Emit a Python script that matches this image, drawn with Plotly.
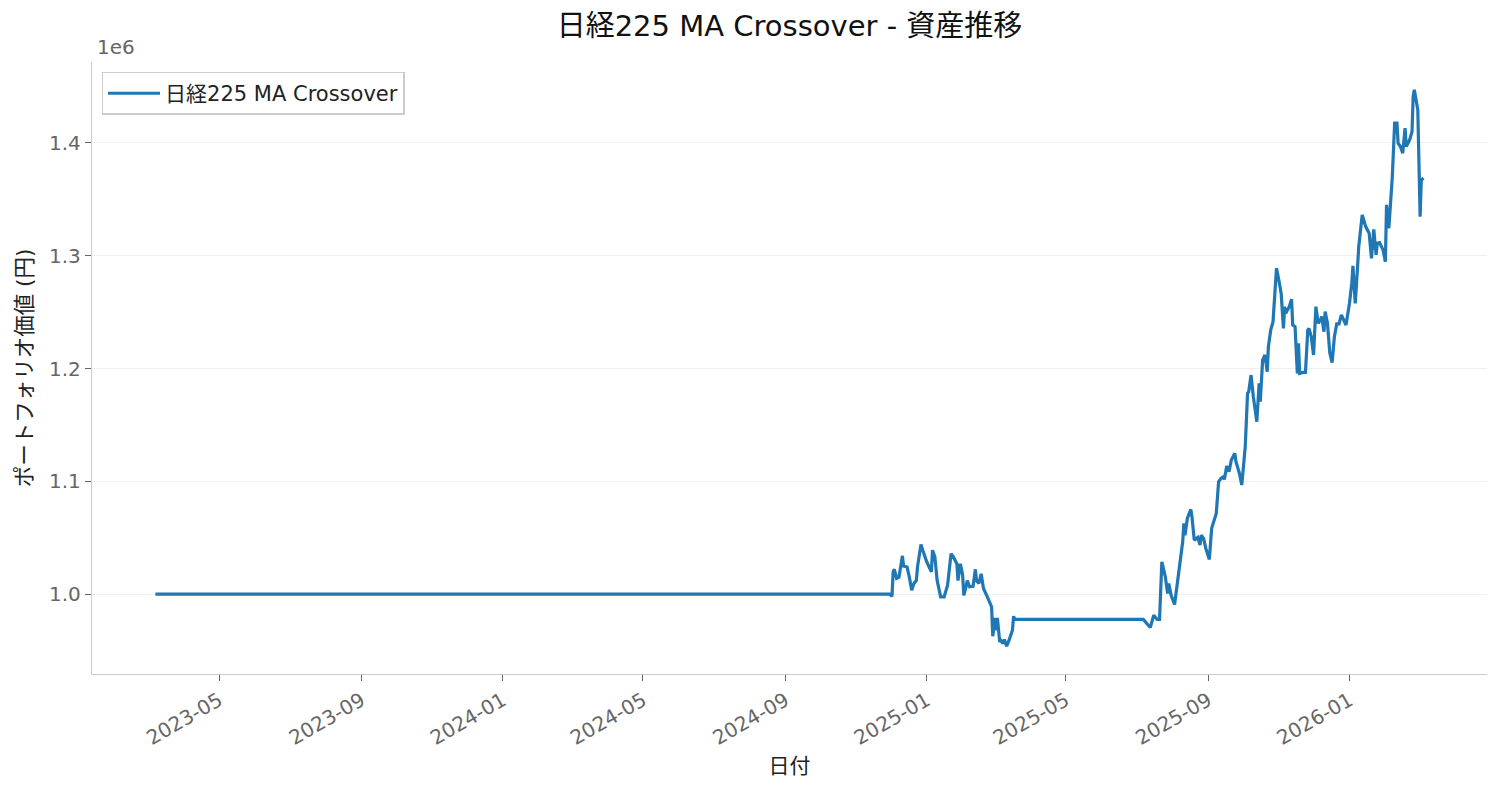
import plotly.graph_objects as go
import pandas as pd

# ---- data ----
dates = [
    "2023-03-07", "2024-11-30", "2024-12-02", "2024-12-03", "2024-12-04", "2024-12-06",
    "2024-12-08", "2024-12-09", "2024-12-11", "2024-12-12", "2024-12-15", "2024-12-17",
    "2024-12-19", "2024-12-21", "2024-12-23", "2024-12-24", "2024-12-27", "2024-12-29",
    "2025-01-01", "2025-01-05", "2025-01-06", "2025-01-08", "2025-01-10", "2025-01-13",
    "2025-01-16", "2025-01-19", "2025-01-21", "2025-01-22", "2025-01-24", "2025-01-27",
    "2025-01-28", "2025-01-30", "2025-02-01", "2025-02-02", "2025-02-04", "2025-02-05",
    "2025-02-07", "2025-02-10", "2025-02-12", "2025-02-13", "2025-02-15", "2025-02-17",
    "2025-02-19", "2025-02-21", "2025-02-23", "2025-02-26", "2025-02-27", "2025-03-01",
    "2025-03-02", "2025-03-03", "2025-03-05", "2025-03-06", "2025-03-08", "2025-03-09",
    "2025-03-11", "2025-03-13", "2025-03-16", "2025-03-17", "2025-03-18",
    "2025-07-07", "2025-07-13", "2025-07-16", "2025-07-19", "2025-07-21", "2025-07-23",
    "2025-07-26", "2025-07-28", "2025-07-29", "2025-07-31", "2025-08-03", "2025-08-05",
    "2025-08-08", "2025-08-10", "2025-08-11", "2025-08-12", "2025-08-14", "2025-08-17",
    "2025-08-18", "2025-08-20", "2025-08-23", "2025-08-25", "2025-08-26", "2025-08-28",
    "2025-08-30", "2025-08-31", "2025-09-02", "2025-09-04", "2025-09-07", "2025-09-08",
    "2025-09-10", "2025-09-12", "2025-09-14", "2025-09-15", "2025-09-17", "2025-09-19",
    "2025-09-21", "2025-09-24", "2025-09-25", "2025-09-28", "2025-09-30", "2025-10-03",
    "2025-10-05", "2025-10-06", "2025-10-08", "2025-10-10", "2025-10-13", "2025-10-15",
    "2025-10-16", "2025-10-18", "2025-10-20", "2025-10-22", "2025-10-23", "2025-10-25",
    "2025-10-27", "2025-10-28", "2025-10-30", "2025-11-01", "2025-11-03", "2025-11-05",
    "2025-11-06", "2025-11-07", "2025-11-10", "2025-11-12", "2025-11-13", "2025-11-15",
    "2025-11-17", "2025-11-18", "2025-11-19", "2025-11-22", "2025-11-24", "2025-11-26",
    "2025-11-27", "2025-11-29", "2025-12-01", "2025-12-03", "2025-12-05", "2025-12-07",
    "2025-12-08", "2025-12-10", "2025-12-11", "2025-12-13", "2025-12-15", "2025-12-17",
    "2025-12-19", "2025-12-21", "2025-12-23", "2025-12-25", "2025-12-27", "2025-12-29",
    "2026-01-01", "2026-01-03", "2026-01-04", "2026-01-06", "2026-01-08", "2026-01-09",
    "2026-01-12", "2026-01-15", "2026-01-18", "2026-01-20", "2026-01-22", "2026-01-24",
    "2026-01-25", "2026-01-27", "2026-01-30", "2026-02-01", "2026-02-02", "2026-02-04",
    "2026-02-07", "2026-02-09", "2026-02-11", "2026-02-12", "2026-02-14", "2026-02-16",
    "2026-02-18", "2026-02-19", "2026-02-22", "2026-02-24", "2026-02-25", "2026-02-26",
    "2026-02-27", "2026-03-01", "2026-03-03", "2026-03-04", "2026-03-06",
]

portfolio_value = [
    1000000, 1000000, 998000, 1020000, 1022000, 1014000,
    1015000, 1022000, 1034000, 1025000, 1024000, 1015000,
    1003500, 1009600, 1012000, 1024000, 1044000, 1037500,
    1028700, 1019800, 1039000, 1033000, 1012000, 997600,
    997600, 1008000, 1024000, 1036000, 1033000, 1027000,
    1012000, 1027000, 1017000, 999000, 1007000, 1012000,
    1006500, 1007000, 1022000, 1012000, 1009600, 1018000,
    1005000, 1001000, 996000, 988700, 962700, 979000,
    968000, 979000, 957700, 959000, 956300, 959800,
    953900, 959000, 968000, 980500, 977600,
    977600, 970500, 981400, 977600, 977600, 1028700,
    1015400, 1000600, 1009500, 999000, 990900, 1006500,
    1030000, 1046400, 1062700, 1052300, 1067100, 1075100,
    1068600, 1047900, 1050300, 1043500, 1052300, 1049400,
    1040500, 1037500, 1030800, 1058300, 1068600, 1071600,
    1099600, 1102600, 1104000, 1101700, 1113500, 1108500,
    1118900, 1124800, 1117400, 1107000, 1096700, 1130600,
    1178000, 1179400, 1194200, 1175000, 1152800, 1186900,
    1170600, 1207500, 1212000, 1197200, 1219300, 1234100,
    1241500, 1260800, 1288900, 1278500, 1266700, 1235600,
    1254800, 1249000, 1254800, 1261400, 1238600, 1237100,
    1195700, 1222400, 1195700, 1196600, 1196600, 1234100,
    1235600, 1228200, 1212000, 1254800, 1240100, 1243000,
    1246000, 1232600, 1250400, 1240100, 1214000, 1205200,
    1228200, 1239500, 1239500, 1247500, 1243000, 1238600,
    1257800, 1275600, 1290900, 1257800, 1290300, 1308000,
    1336100, 1325800, 1319900, 1297700, 1323400, 1300700,
    1311000, 1311600, 1305100, 1294700, 1345000, 1324300,
    1370100, 1417500, 1417500, 1399700, 1396700, 1390900,
    1413000, 1396700, 1402700, 1410000, 1441000, 1447000,
    1441000, 1429300, 1334600, 1367200, 1368700,
]

series_name = "日経225 MA Crossover"
y_tick_values = [1.0e6, 1.1e6, 1.2e6, 1.3e6, 1.4e6]
y_tick_labels = ["1.0", "1.1", "1.2", "1.3", "1.4"]

FONT = "DejaVu Sans, Noto Sans CJK JP"

x = pd.to_datetime(dates)
xmin, xmax = x.min(), x.max()
xpad = (xmax - xmin) * 0.05
ymin, ymax = min(portfolio_value), max(portfolio_value)
ypad = (ymax - ymin) * 0.05

fig = go.Figure()
fig.add_trace(go.Scatter(
    x=x, y=portfolio_value, mode="lines", name=series_name,
    line=dict(color="#1f77b4", width=3.2),
))

# page body has an 8px margin, so the figure is sized/offset to compensate
W, H = 1493, 785
fig.update_layout(
    width=W, height=H,
    margin=dict(l=84, r=14, t=54, b=119, autoexpand=False),
    paper_bgcolor="white", plot_bgcolor="white",
    font=dict(family=FONT, size=20, color="#222222"),
    title=dict(text="日経225 MA Crossover - 資産推移", x=0.5, xref="paper",
               y=1 - 18 / H, yref="container", xanchor="center", yanchor="middle",
               font=dict(family=FONT, size=29, color="#111111")),
    showlegend=True,
    legend=dict(x=0.007, y=0.984, xanchor="left", yanchor="top",
                bgcolor="white", bordercolor="#cccccc", borderwidth=1.3,
                itemwidth=52,
                font=dict(family=FONT, size=21, color="#222222")),
)

fig.update_xaxes(
    range=[xmin - xpad, xmax + xpad], automargin=False,
    type="date", dtick="M4", tick0="2023-01-01", tickformat="%Y-%m",
    tickangle=-30, ticks="outside", ticklen=6, tickwidth=1.3, tickcolor="#666666",
    tickfont=dict(family=FONT, size=20, color="#666666"),
    showgrid=False, showline=True, linecolor="#cccccc", linewidth=1.3,
    zeroline=False,
    title=dict(text="日付", font=dict(family=FONT, size=21, color="#222222"), standoff=9),
)

fig.update_yaxes(
    range=[ymin - ypad, ymax + ypad], automargin=False,
    tickvals=y_tick_values, ticktext=y_tick_labels,
    ticks="outside", ticklen=6, tickwidth=1.3, tickcolor="#666666",
    tickfont=dict(family=FONT, size=20, color="#666666"),
    showgrid=True, gridcolor="#efefef", gridwidth=1,
    showline=True, linecolor="#cccccc", linewidth=1.3, zeroline=False,
    title=dict(text="ポートフォリオ価値 (円)", font=dict(family=FONT, size=21.5, color="#222222"), standoff=10),
)

fig.add_annotation(text="1e6", xref="paper", yref="paper", x=0.002, y=1.0,
                   xanchor="left", yanchor="bottom", showarrow=False, yshift=1,
                   font=dict(family=FONT, size=20, color="#666666"))

fig.write_html("out.html")
